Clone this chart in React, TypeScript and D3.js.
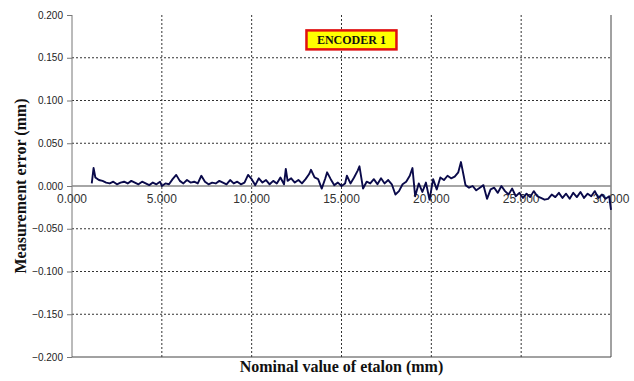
import React, { useEffect, useRef } from "react";
import * as d3 from "d3";

// nominal value of etalon (mm), measurement error (mm)
const nominal = [
  1100, 1200, 1300, 1500, 1700, 1900, 2100, 2300, 2500, 2700, 2900, 3100, 3300, 3500, 3700, 3900,
  4100, 4300, 4500, 4700, 4900, 5000, 5200, 5400, 5600, 5800, 6000, 6200, 6400, 6600, 6800, 7000,
  7200, 7400, 7600, 7800, 8000, 8200, 8400, 8600, 8800, 9000, 9200, 9400, 9600, 9800, 10000, 10200,
  10400, 10600, 10800, 11000, 11200, 11400, 11600, 11800, 11900, 12000, 12200, 12400, 12600, 12800,
  13000, 13200, 13300, 13500, 13700, 13900, 14100, 14200, 14400, 14600, 14800, 15000, 15200, 15300,
  15500, 15700, 15900, 16000, 16200, 16400, 16600, 16800, 17000, 17200, 17400, 17600, 17800, 18000,
  18200, 18400, 18600, 18800, 18950, 19100, 19300, 19500, 19700, 19900, 20100, 20300, 20500, 20700,
  20900, 21100, 21300, 21500, 21650, 21800, 21900, 22100, 22300, 22500, 22700, 22900, 23100, 23300,
  23500, 23700, 23900, 24100, 24300, 24500, 24700, 24900, 25100, 25300, 25500, 25700, 25900, 26100,
  26300, 26500, 26700, 26900, 27100, 27300, 27500, 27700, 27900, 28100, 28300, 28500, 28700, 28900,
  29100, 29300, 29500, 29700, 29900, 30000,
];
const error = [
  0.003, 0.021, 0.01, 0.007, 0.006, 0.004, 0.003, 0.005, 0.002, 0.004, 0.005, 0.003, 0.006, 0.004, 0.002, 0.005,
  0.003, 0.001, 0.004, 0.002, 0.005, 0.0, 0.003, 0.002, 0.008, 0.013, 0.006, 0.003, 0.007, 0.004, 0.005, 0.003,
  0.012, 0.005, 0.002, 0.004, 0.003, 0.006, 0.004, 0.002, 0.007, 0.003, 0.005, 0.002, 0.004, 0.013, 0.008, 0.001,
  0.009, 0.004, 0.007, 0.002, 0.006, 0.003, 0.01, 0.002, 0.02, 0.006, 0.009, 0.004, 0.007, 0.003,
  0.008, 0.014, 0.019, 0.01, 0.008, -0.003, 0.009, 0.016, 0.008, 0.001, 0.004, 0.0, 0.003, 0.012,
  0.003, 0.01, 0.018, 0.023, -0.003, 0.005, 0.003, 0.008, 0.002, 0.009, 0.003, 0.007, 0.002, -0.01,
  -0.006, 0.002, 0.005, 0.012, 0.021, -0.012, 0.003, -0.007, 0.004, -0.016, 0.008, -0.004, 0.01, 0.007,
  0.012, 0.009, 0.011, 0.016, 0.028, 0.012, 0.001, -0.002, 0.0, -0.005, -0.002, 0.001, -0.015, -0.004,
  -0.002, -0.008, 0.0, -0.006, -0.01, -0.003, -0.012, -0.008, -0.014, -0.009, -0.013, -0.006, -0.012, -0.014,
  -0.016, -0.015, -0.01, -0.013, -0.008, -0.014, -0.009, -0.015, -0.008, -0.013, -0.007, -0.014, -0.009, -0.012,
  -0.006, -0.014, -0.01, -0.015, -0.012, -0.028,
];

const xTicks = [0, 5000, 10000, 15000, 20000, 25000, 30000];
const yTicks = [-0.2, -0.15, -0.1, -0.05, 0, 0.05, 0.1, 0.15, 0.2];
const legendLabel = "ENCODER 1";

const W = 634;
const H = 381;
const margin = { top: 15, right: 23, bottom: 24, left: 72 };

export default function App() {
  const ref = useRef<SVGSVGElement>(null);

  useEffect(() => {
    if (!ref.current) return;
    const svg = d3.select(ref.current);
    svg.selectAll("*").remove();

    const width = W - margin.left - margin.right;
    const height = H - margin.top - margin.bottom;

    const x = d3.scaleLinear().domain([0, 30000]).range([0, width]);
    const y = d3.scaleLinear().domain([-0.2, 0.2]).range([height, 0]);

    const g = svg.append("g").attr("transform", `translate(${margin.left},${margin.top})`);

    // Grid lines (dotted)
    g.append("g")
      .selectAll("line")
      .data(yTicks.filter((t) => t !== 0 && t !== -0.2 && t !== 0.2))
      .join("line")
      .attr("x1", 0)
      .attr("x2", width)
      .attr("y1", (d) => y(d))
      .attr("y2", (d) => y(d))
      .attr("stroke", "#333")
      .attr("stroke-dasharray", "2,2");

    g.append("g")
      .selectAll("line")
      .data(xTicks.filter((t) => t !== 0 && t !== 30000))
      .join("line")
      .attr("x1", (d) => x(d))
      .attr("x2", (d) => x(d))
      .attr("y1", 0)
      .attr("y2", height)
      .attr("stroke", "#333")
      .attr("stroke-dasharray", "2,2");

    // Frame: left axis, bottom, right
    g.append("line").attr("x1", 0).attr("x2", 0).attr("y1", 0).attr("y2", height).attr("stroke", "#777");
    g.append("line").attr("x1", 0).attr("x2", width).attr("y1", height).attr("y2", height).attr("stroke", "#444");
    g.append("line").attr("x1", width).attr("x2", width).attr("y1", 0).attr("y2", height).attr("stroke", "#444");

    // Y axis ticks
    const yAxis = g
      .append("g")
      .call(
        d3
          .axisLeft(y)
          .tickValues(yTicks)
          .tickSize(5)
          .tickFormat((d) => d3.format(".3f")(d as number))
      );
    yAxis.select(".domain").remove();
    yAxis.selectAll("line").attr("stroke", "#777");
    yAxis
      .selectAll("text")
      .attr("font-family", "Liberation Sans, Arial, sans-serif")
      .attr("font-size", 10)
      .attr("fill", "#222")
      .attr("x", -9);

    // Zero line
    g.append("line")
      .attr("x1", 0)
      .attr("x2", width)
      .attr("y1", y(0))
      .attr("y2", y(0))
      .attr("stroke", "#888")
      .attr("stroke-width", 1.5);

    // X tick labels just under zero line
    g.append("g")
      .selectAll("text")
      .data(xTicks)
      .join("text")
      .attr("x", (d) => x(d))
      .attr("y", y(0) + 17)
      .attr("text-anchor", "middle")
      .attr("font-family", "Liberation Sans, Arial, sans-serif")
      .attr("font-size", 12)
      .attr("fill", "#333")
      .text((d) => d3.format(".3f")(d / 1000));

    // Series
    const line = d3
      .line<number>()
      .x((_, i) => x(nominal[i]))
      .y((d) => y(d));
    g.append("path")
      .datum(error)
      .attr("fill", "none")
      .attr("stroke", "#0a0a4a")
      .attr("stroke-width", 1.9)
      .attr("stroke-linejoin", "round")
      .attr("d", line);

    // Legend box
    const lg = g.append("g").attr("transform", `translate(${x(13050)},${y(0.182)})`);
    lg.append("rect")
      .attr("width", 90)
      .attr("height", 19)
      .attr("fill", "#ffff00")
      .attr("stroke", "#e01010")
      .attr("stroke-width", 2.5);
    lg.append("text")
      .attr("x", 45)
      .attr("y", 14)
      .attr("text-anchor", "middle")
      .attr("font-family", "Liberation Serif, Times New Roman, serif")
      .attr("font-weight", "bold")
      .attr("font-size", 12)
      .attr("fill", "#111")
      .text(legendLabel);

    // Axis titles
    svg
      .append("text")
      .attr("x", margin.left + width / 2)
      .attr("y", 372)
      .attr("text-anchor", "middle")
      .attr("font-family", "Liberation Serif, Times New Roman, serif")
      .attr("font-weight", "bold")
      .attr("font-size", 16)
      .attr("fill", "#111")
      .text("Nominal value of etalon (mm)");

    svg
      .append("text")
      .attr("transform", `translate(26,${margin.top + height / 2}) rotate(-90)`)
      .attr("text-anchor", "middle")
      .attr("font-family", "Liberation Serif, Times New Roman, serif")
      .attr("font-weight", "bold")
      .attr("font-size", 16)
      .attr("fill", "#111")
      .text("Measurement error (mm)");
  }, []);

  return (
    <svg
      ref={ref}
      width={W}
      height={H}
      style={{ position: "absolute", left: 0, top: 0, background: "#fff" }}
    />
  );
}
